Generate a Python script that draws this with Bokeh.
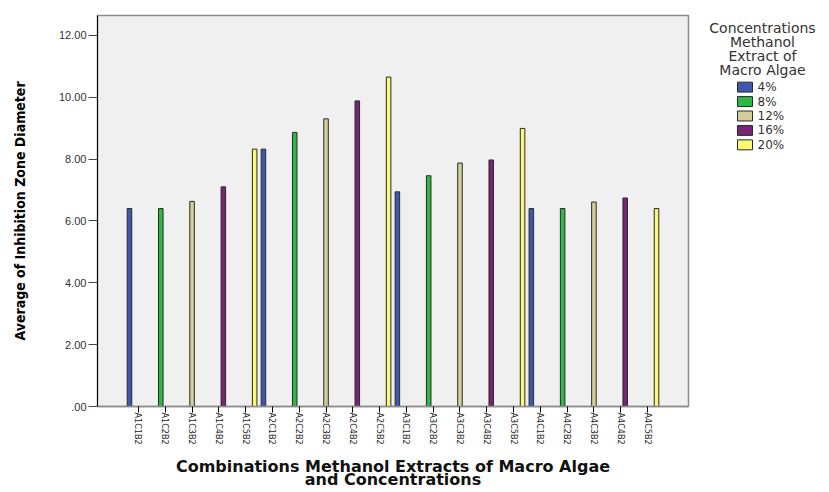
import math
from bokeh.plotting import figure
from bokeh.layouts import row
from bokeh.core.properties import value
from bokeh.models import FixedTicker, ColumnDataSource, Range1d, Label
from bokeh.embed import file_html
from bokeh.resources import INLINE

categories = ["A1C1B2", "A1C2B2", "A1C3B2", "A1C4B2", "A1C5B2",
              "A2C1B2", "A2C2B2", "A2C3B2", "A2C4B2", "A2C5B2",
              "A3C1B2", "A3C2B2", "A3C3B2", "A3C4B2", "A3C5B2",
              "A4C1B2", "A4C2B2", "A4C3B2", "A4C4B2", "A4C5B2"]
values = [6.40, 6.40, 6.63, 7.10, 8.32,
          8.32, 8.86, 9.30, 9.88, 10.65,
          6.94, 7.46, 7.87, 7.97, 8.99,
          6.40, 6.40, 6.61, 6.74, 6.40]
bar_concentration = ["4%", "8%", "12%", "16%", "20%",
                     "4%", "8%", "12%", "16%", "20%",
                     "4%", "8%", "12%", "16%", "20%",
                     "4%", "8%", "12%", "16%", "20%"]
concentrations = ["4%", "8%", "12%", "16%", "20%"]
colors = ["#3E58AC", "#2EB848", "#D3CE97", "#752572", "#FBF873"]
y_ticks = [0, 2, 4, 6, 8, 10, 12]
y_tick_labels = [".00", "2.00", "4.00", "6.00", "8.00", "10.00", "12.00"]
legend_title_lines = ["Concentrations", "Methanol", "Extract of", "Macro Algae"]

slot = 0.168
bar_w = 0.17
outline = "#2a2a2a"
W, H = 829, 492
top_b, bot_b = 15, 84

# ---------------- main chart ----------------
p = figure(width=692, height=H,
           x_range=Range1d(-1.53, 20.53), y_range=Range1d(0, 12.64),
           output_backend="svg", toolbar_location=None,
           min_border_left=97, min_border_right=4,
           min_border_top=top_b, min_border_bottom=bot_b)
p.background_fill_color = "#F0F0F0"
p.border_fill_color = "white"
p.outline_line_color = "#8c8c8c"
p.outline_line_width = 1.5
p.xgrid.visible = False
p.ygrid.visible = False

for k, conc in enumerate(concentrations):
    xs, tops = [], []
    for i, (cat, v, c) in enumerate(zip(categories, values, bar_concentration)):
        if c == conc:
            xs.append(i + (k - 2) * slot)
            tops.append(v)
    src = ColumnDataSource(dict(x=xs, top=tops))
    p.vbar(x="x", top="top", width=bar_w, bottom=0, source=src,
           fill_color=colors[k], line_color=outline, line_width=1)

# x axis
p.xaxis.ticker = FixedTicker(ticks=list(range(len(categories))))
p.xaxis.major_label_overrides = {i: c for i, c in enumerate(categories)}
p.xaxis.major_label_orientation = -math.pi / 2
p.xaxis.major_label_text_font = "DejaVu Sans Condensed"
p.xaxis.major_label_text_font_size = "9px"
p.xaxis.major_label_text_color = "#222222"
p.xaxis.major_label_standoff = 0
p.xaxis.major_tick_out = 6
p.xaxis.major_tick_in = 0
p.xaxis.minor_tick_line_color = None
p.xaxis.axis_line_color = "#8c8c8c"
p.xaxis.axis_line_width = 1.5
p.xaxis.major_tick_line_color = "black"
p.xaxis.axis_label = "Combinations Methanol Extracts of Macro Algae\nand Concentrations"
p.xaxis.axis_label_text_font = "DejaVu Sans"
p.xaxis.axis_label_text_font_style = "bold"
p.xaxis.axis_label_text_font_size = "16px"
p.xaxis.axis_label_text_line_height = 0.72
p.xaxis.axis_label_text_color = "#111111"
p.xaxis.axis_label_standoff = 9

# y axis
p.yaxis.ticker = FixedTicker(ticks=y_ticks)
p.yaxis.major_label_overrides = {t: l for t, l in zip(y_ticks, y_tick_labels)}
p.yaxis.major_label_text_font = "Liberation Sans"
p.yaxis.major_label_text_font_size = "11px"
p.yaxis.major_label_text_color = "#333333"
p.yaxis.major_label_standoff = 2
p.yaxis.major_tick_out = 9
p.yaxis.major_tick_in = 0
p.yaxis.minor_tick_line_color = None
p.yaxis.axis_line_color = "black"
p.yaxis.major_tick_line_color = "#444444"
p.yaxis.axis_label = "Average of Inhibition Zone Diameter"
p.yaxis.axis_label_text_font = "DejaVu Sans Condensed"
p.yaxis.axis_label_text_font_style = "bold"
p.yaxis.axis_label_text_font_size = "14px"
p.yaxis.axis_label_text_color = "black"
p.yaxis.axis_label_standoff = 28

# ---------------- legend panel ----------------
# frame aligned with the main frame; 1 data unit = 1 px, y measured up from page bottom
lw = W - 692
lp = figure(width=lw, height=H, x_range=Range1d(0, lw), y_range=Range1d(bot_b, H - top_b),
            output_backend="svg", toolbar_location=None,
            x_axis_location=None, y_axis_location=None,
            min_border_left=0, min_border_right=0,
            min_border_top=top_b, min_border_bottom=bot_b)
lp.outline_line_color = None
lp.background_fill_color = "white"
lp.border_fill_color = "white"
lp.xgrid.visible = False
lp.ygrid.visible = False

row0, pitch = H - 87, 14.5
leg_y = [row0 - k * pitch for k in range(len(concentrations))]
leg_src = ColumnDataSource(dict(y=leg_y, color=colors, label=concentrations))
lp.rect(x=52.5, y="y", width=15, height=10, fill_color="color",
        line_color=outline, line_width=1, source=leg_src)
lp.text(x=65, y="y", text="label", source=leg_src, text_baseline="middle",
        text_align="left", text_font=value("DejaVu Sans"), text_font_size=value("12px"),
        text_color="#333333")

for j, line in enumerate(legend_title_lines):
    lp.add_layout(Label(x=70, y=H - 27.5 - j * 14, text=line,
                        text_align="center", text_baseline="middle",
                        text_font="DejaVu Sans", text_font_size="14px",
                        text_color="#333333"))

layout = row(p, lp)
open("out.html", "w").write(file_html(layout, INLINE))
